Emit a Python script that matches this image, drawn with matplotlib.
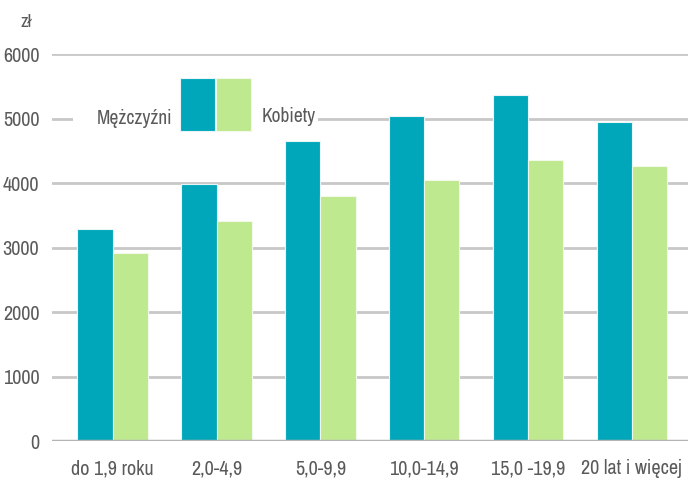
import numpy as np
import matplotlib
matplotlib.use("Agg")
import matplotlib.pyplot as plt
from matplotlib.patches import Rectangle
from matplotlib import font_manager

# Data
categories = ["do 1,9 roku", "2,0-4,9", "5,0-9,9", "10,0-14,9", "15,0 -19,9", "20 lat i więcej"]
men = [3290, 3990, 4650, 5040, 5370, 4950]
women = [2920, 3410, 3800, 4050, 4350, 4260]
yticks = [0, 1000, 2000, 3000, 4000, 5000, 6000]

teal = "#00A7BA"
green = "#BFE98F"
grey_text = "#5a5a5a"

# a narrow face is closest to the condensed font of the original
names = sorted({f.name for f in font_manager.fontManager.ttflist})
narrow = [n for n in names if "Narrow" in n or "Condensed" in n]
plt.rcParams["font.family"] = (narrow[:1] if narrow else []) + ["DejaVu Sans"]

fig = plt.figure(figsize=(6.9, 4.84), dpi=100)
ax = fig.add_axes([0.075, 0.0888, 0.922, 0.7996])

x = np.arange(len(categories))
w = 0.34
ax.bar(x - w / 2, men, w, color=teal, edgecolor="#e8f4f5", linewidth=0.8, zorder=3)
ax.bar(x + w / 2, women, w, color=green, edgecolor="#f2f9ea", linewidth=0.8, zorder=3)

ax.set_xlim(-0.587, 5.54)
ax.set_ylim(0, 6000)
ax.set_yticks(yticks)
ax.set_yticklabels([str(v) for v in yticks], fontsize=14.5, color=grey_text)
ax.set_xticks(x)
ax.set_xticklabels(categories, fontsize=14.5, color=grey_text)
ax.tick_params(axis="y", length=0, pad=9)
ax.tick_params(axis="x", length=0, pad=13)
for s in ax.spines.values():
    s.set_visible(False)
ax.yaxis.grid(True, color="#c8c8c8", linewidth=2, zorder=0)
ax.axhline(0, color="#b4b4b4", linewidth=2.5, zorder=4)

# legend drawn by hand inside the plot
ax.add_patch(Rectangle((0.034, 0.80), 0.385, 0.07, transform=ax.transAxes,
                       facecolor="white", edgecolor="none", zorder=5))
ax.add_patch(Rectangle((0.201, 0.801), 0.055, 0.137, transform=ax.transAxes,
                       facecolor=teal, edgecolor="#e8f4f5", linewidth=0.8, zorder=6))
ax.add_patch(Rectangle((0.258, 0.801), 0.055, 0.137, transform=ax.transAxes,
                       facecolor=green, edgecolor="#f2f9ea", linewidth=0.8, zorder=6))
ax.text(0.19, 0.833, "Mężczyźni", transform=ax.transAxes, ha="right", va="center",
        fontsize=14, color=grey_text, zorder=7)
ax.text(0.33, 0.838, "Kobiety", transform=ax.transAxes, ha="left", va="center",
        fontsize=14, color=grey_text, zorder=7)

fig.text(0.03, 0.955, "zł", fontsize=13.5, color=grey_text, ha="left", va="center")

fig.savefig("out.png", dpi=100)
